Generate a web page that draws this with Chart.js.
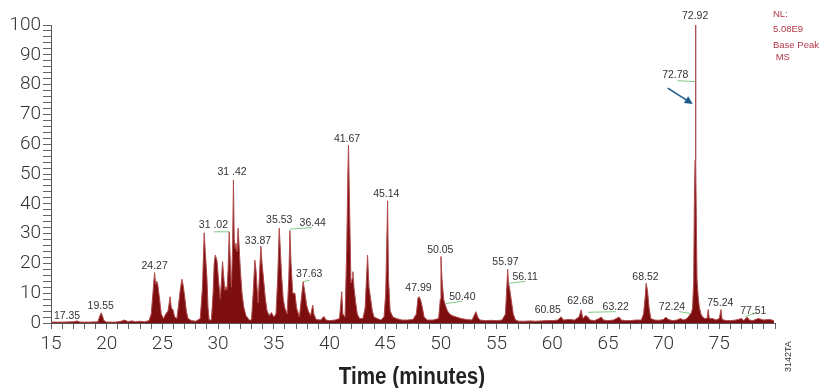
<!DOCTYPE html>
<html>
<head>
<meta charset="utf-8">
<script src="https://cdn.jsdelivr.net/npm/chart.js@4.4.1/dist/chart.umd.min.js"></script>
<style>
  html, body { margin: 0; padding: 0; background: #fff; }
  #wrap { width: 823px; height: 388px; position: relative; }
</style>
</head>
<body>
<div id="wrap"><canvas id="mycanvas" width="823" height="388"></canvas></div>
<script>
// retention time (min) and relative abundance (%)
var times = [
  15.0, 16.0, 17.0, 17.35, 17.6, 18.5, 19.2, 19.35, 19.5, 19.6, 19.75, 20.0, 20.8, 21.3, 21.6, 21.9, 22.3, 22.6, 23.0, 23.4,
  23.8, 24.0, 24.15, 24.3, 24.4, 24.5, 24.6, 24.75, 24.9, 25.1, 25.3, 25.5, 25.7, 25.8, 25.95, 26.1, 26.3, 26.45, 26.6, 26.75,
  26.85, 27.0, 27.15, 27.3, 27.6, 28.0, 28.4, 28.6, 28.75, 28.85, 29.0, 29.1, 29.2, 29.4, 29.55, 29.65, 29.75, 29.9, 30.05, 30.2,
  30.3, 30.4, 30.5, 30.6, 30.7, 30.8, 30.9, 31.0, 31.1, 31.2, 31.3, 31.38, 31.45, 31.55, 31.6, 31.7, 31.8, 31.9, 32.0, 32.15,
  32.3, 32.5, 32.8, 33.0, 33.15, 33.3, 33.4, 33.5, 33.6, 33.7, 33.84, 33.95, 34.1, 34.25, 34.4, 34.6, 34.8, 35.0, 35.2, 35.35,
  35.49, 35.6, 35.7, 35.85, 36.0, 36.2, 36.35, 36.45, 36.55, 36.7, 36.9, 37.05, 37.3, 37.5, 37.64, 37.8, 37.95, 38.1, 38.3, 38.5,
  38.6, 38.8, 39.2, 39.5, 39.7, 40.0, 40.5, 40.9, 41.1, 41.2, 41.4, 41.55, 41.65, 41.71, 41.8, 41.93, 42.05, 42.1, 42.2, 42.35,
  42.5, 42.7, 43.0, 43.2, 43.3, 43.42, 43.55, 43.7, 43.85, 44.0, 44.3, 44.6, 44.9, 45.05, 45.22, 45.3, 45.45, 45.7, 46.0, 46.5,
  47.0, 47.5, 47.8, 47.95, 48.06, 48.2, 48.35, 48.5, 48.8, 49.3, 49.8, 49.95, 50.01, 50.1, 50.25, 50.4, 50.6, 50.8, 51.0, 51.4,
  51.8, 52.3, 52.8, 53.05, 53.16, 53.3, 53.5, 54.0, 54.5, 55.0, 55.5, 55.8, 55.92, 56.0, 56.08, 56.2, 56.35, 56.5, 56.7, 57.0,
  57.5, 58.0, 58.5, 59.0, 59.5, 60.0, 60.5, 60.8, 61.0, 61.5, 62.0, 62.4, 62.6, 62.75, 63.0, 63.2, 63.4, 63.8, 64.2, 64.4,
  64.6, 65.0, 65.5, 66.0, 66.2, 66.6, 67.0, 67.5, 68.0, 68.2, 68.35, 68.43, 68.55, 68.7, 68.85, 69.2, 69.6, 70.0, 70.2, 70.4,
  70.8, 71.2, 71.5, 71.8, 72.1, 72.3, 72.5, 72.6, 72.7, 72.76, 72.82, 72.86, 72.88, 72.9, 72.95, 73.0, 73.1, 73.2, 73.35, 73.5,
  73.7, 73.9, 74.0, 74.1, 74.4, 74.7, 75.0, 75.15, 75.25, 75.6, 76.0, 76.5, 77.0, 77.2, 77.5, 77.7, 78.0, 78.5, 79.0, 79.5,
  79.9
];
var abundance = [
  0.3, 0.3, 0.4, 0.7, 0.3, 0.3, 0.4, 2.0, 3.4, 2.6, 0.8, 0.3, 0.3, 0.6, 1.0, 0.5, 0.7, 0.4, 0.6, 0.4,
  0.8, 3, 10, 16.9, 13, 14, 12.5, 8, 3, 1.5, 3, 4, 8.8, 5, 4.5, 2, 1.5, 6, 11, 14.7,
  13, 9, 4, 1.5, 0.8, 0.6, 1.5, 12, 30.3, 24, 15, 5, 1, 1, 10, 20, 22.8, 21, 14, 8,
  14, 20.6, 16, 11, 12.2, 11, 18, 30.6, 20, 12, 25, 48, 28, 25, 26.7, 24, 31.8, 25, 17.8, 10,
  5.5, 2.5, 1, 1, 10, 21.1, 18, 12, 6.7, 15, 25.8, 20, 14, 8, 4, 2.5, 3.5, 2, 3, 15,
  31.8, 24, 16, 8, 5, 3, 15, 31, 20, 10, 10, 5, 2, 9, 13.9, 10, 6, 4, 2.5, 6,
  3, 1.2, 1, 2.2, 1, 0.8, 1, 1.5, 10.5, 3, 2, 25, 50.3, 59.7, 40, 13.4, 15, 17.2, 12, 7,
  3, 1.5, 1.5, 5, 13, 22.8, 12, 8, 4, 2, 1.5, 1, 2, 10, 41, 15, 4, 2, 1.5, 1,
  1, 1.2, 3, 8.5, 8.8, 7.5, 5, 2, 1, 1, 1.5, 8, 22.3, 15, 8, 6, 4, 3, 2.5, 2,
  1.5, 1.2, 1, 3, 3.8, 2, 1, 0.8, 0.9, 0.8, 1, 3, 12, 18, 13.3, 11, 7, 3, 1, 0.6,
  0.6, 0.7, 0.6, 0.7, 0.8, 0.8, 1, 2.1, 1, 1.2, 1, 2, 4.4, 1.5, 2.5, 2, 1, 0.8, 1.5, 2,
  1, 0.8, 1, 2, 1, 0.8, 0.8, 1, 1, 3, 9, 13.3, 11, 5, 1.5, 1, 0.9, 1.2, 2, 1.2,
  0.8, 1, 1.5, 1, 1.5, 2.5, 3.5, 5, 14, 40.7, 54.7, 81, 100, 55, 30, 14.5, 9, 5.5, 3, 2,
  1.5, 1.5, 4.5, 1.5, 1.5, 1, 1.5, 4.5, 1.2, 0.8, 0.8, 1, 1.5, 0.8, 2, 1, 0.8, 1.5, 1, 1.2,
  0.8
];

// peak labels: text, label centre (time, level)
var peakText  = ['17.35', '19.55', '24.27', '31 .02', '31 .42', '33.87', '35.53', '36.44', '37.63', '41.67', '45.14', '47.99',
                 '50.05', '50.40', '55.97', '56.11', '60.85', '62.68', '63.22', '68.52', '72.24', '72.78', '72.92', '75.24', '77.51'];
var peakTime  = [16.44, 19.46, 24.3, 29.58, 31.26, 33.58, 35.49, 38.5, 38.18, 41.58, 45.1, 47.99,
                 49.95, 51.93, 55.8, 57.57, 59.6, 62.53, 65.7, 68.37, 70.75, 71.05, 72.83, 75.09, 78.05];
var peakLevel = [2.4, 5.7, 19.1, 32.9, 50.7, 27.5, 34.6, 33.5, 16.4, 61.7, 43.3, 11.6,
                 24.5, 8.8, 20.6, 15.5, 4.4, 7.2, 5.3, 15.3, 5.3, 83.2, 103, 6.8, 4.1];

// green leader lines: [t1, v1, t2, v2]
var leaders = [
  [29.65, 30.6, 31.0, 30.6],
  [36.45, 31.5, 38.4, 32],
  [37.64, 13.9, 38.2, 14.3],
  [50.4, 6.5, 51.9, 7.3],
  [56.1, 13.3, 57.6, 14],
  [63.2, 3.6, 65.7, 3.8],
  [71.4, 3.8, 72.45, 3.2],
  [71.25, 81.3, 72.85, 81],
  [77.35, 2.2, 78.3, 3.3]
];
var arrowFrom = [70.37, 78.8];
var arrowTo = [72.62, 73.5];
var infoLines = ['NL:', '5.08E9', 'Base Peak', ' MS'];

var points = [];
for (var i in times) {
  points.push({x: times[i], y: abundance[i]});
}

var extras = {
  id: 'extras',
  afterDatasetsDraw: function(chart) {
    var ctx = chart.ctx;
    var xs = chart.scales.x, ys = chart.scales.y;
    var area = chart.chartArea;
    ctx.save();

    // leader lines
    ctx.strokeStyle = '#84c884';
    ctx.lineWidth = 1;
    leaders.forEach(function(l) {
      ctx.beginPath();
      ctx.moveTo(xs.getPixelForValue(l[0]), ys.getPixelForValue(l[1]));
      ctx.lineTo(xs.getPixelForValue(l[2]), ys.getPixelForValue(l[3]));
      ctx.stroke();
    });

    // peak labels
    ctx.fillStyle = '#333';
    ctx.font = '10.5px "Liberation Sans", Arial, sans-serif';
    ctx.textAlign = 'center';
    ctx.textBaseline = 'middle';
    for (var k = 0; k < peakText.length; k++) {
      ctx.fillText(peakText[k], xs.getPixelForValue(peakTime[k]), ys.getPixelForValue(peakLevel[k]));
    }

    // blue arrow
    var x1 = xs.getPixelForValue(arrowFrom[0]), y1 = ys.getPixelForValue(arrowFrom[1]);
    var x2 = xs.getPixelForValue(arrowTo[0]), y2 = ys.getPixelForValue(arrowTo[1]);
    var ang = Math.atan2(y2 - y1, x2 - x1);
    ctx.strokeStyle = '#1f5c8e';
    ctx.fillStyle = '#1f5c8e';
    ctx.lineWidth = 1.6;
    ctx.beginPath();
    ctx.moveTo(x1, y1);
    ctx.lineTo(x2 - 5 * Math.cos(ang), y2 - 5 * Math.sin(ang));
    ctx.stroke();
    ctx.beginPath();
    ctx.moveTo(x2, y2);
    ctx.lineTo(x2 - 8 * Math.cos(ang) + 4 * Math.sin(ang), y2 - 8 * Math.sin(ang) - 4 * Math.cos(ang));
    ctx.lineTo(x2 - 8 * Math.cos(ang) - 4 * Math.sin(ang), y2 - 8 * Math.sin(ang) + 4 * Math.cos(ang));
    ctx.closePath();
    ctx.fill();

    // NL block
    ctx.fillStyle = '#b4384a';
    ctx.font = '9.5px "Liberation Sans", Arial, sans-serif';
    ctx.textAlign = 'left';
    var infoY = [14, 29, 45, 57];
    infoLines.forEach(function(s, j) {
      ctx.fillText(s, area.right - 2, infoY[j]);
    });

    // axis title (condensed look)
    ctx.save();
    ctx.fillStyle = '#222';
    ctx.font = 'bold 24px "Liberation Sans", Arial, sans-serif';
    ctx.textAlign = 'center';
    ctx.translate(412, 377);
    ctx.scale(0.86, 1);
    ctx.fillText('Time (minutes)', 0, 0);
    ctx.restore();

    // figure code
    ctx.translate(789, 372);
    ctx.rotate(-Math.PI / 2);
    ctx.fillStyle = '#333';
    ctx.font = '9px "Liberation Sans", Arial, sans-serif';
    ctx.fillText('3142TA', 0, 0);
    ctx.restore();
  }
};

var tickFont = {family: 'Roboto, "Liberation Sans", sans-serif', size: 19, weight: '300'};

var chart = new Chart(document.getElementById('mycanvas'), {
  type: 'line',
  data: {
    datasets: [{
      data: points,
      borderColor: '#b04a4c',
      borderWidth: 1,
      backgroundColor: '#7d0e10',
      fill: 'origin',
      pointRadius: 0,
      tension: 0
    }]
  },
  options: {
    responsive: false,
    animation: false,
    layout: {padding: {top: 25, right: 48, left: 0, bottom: 0}},
    plugins: {legend: {display: false}, tooltip: {enabled: false}},
    scales: {
      x: {
        type: 'linear',
        min: 15,
        max: 80,
        afterFit: function(s) { s.height = 65; },
        border: {display: true, color: '#555', width: 1},
        grid: {drawOnChartArea: false, drawTicks: true, tickLength: 6, color: '#666'},
        ticks: {
          stepSize: 1,
          autoSkip: false,
          maxRotation: 0,
          padding: 4,
          color: '#333',
          font: tickFont,
          callback: function(v) { return (v % 5 === 0 && v < 80) ? String(v) : ''; }
        }
      },
      y: {
        min: 0,
        max: 100,
        afterFit: function(s) { s.width = 51; },
        border: {display: true, color: '#555', width: 1},
        grid: {drawOnChartArea: false, drawTicks: true, tickLength: 8, color: '#666'},
        ticks: {
          stepSize: 2,
          autoSkip: false,
          padding: 2,
          color: '#333',
          font: tickFont,
          callback: function(v) { return v % 10 === 0 ? String(v) : ''; }
        }
      }
    }
  },
  plugins: [extras]
});
</script>
</body>
</html>
